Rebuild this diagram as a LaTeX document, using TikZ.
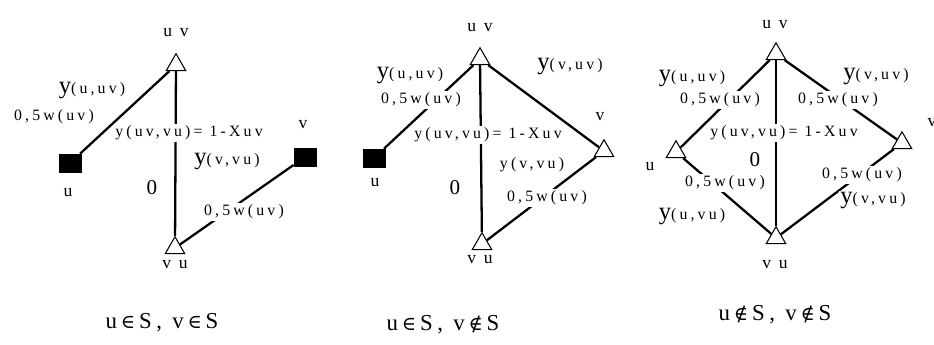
\documentclass[tikz,border=0pt]{standalone}
\usepackage{fontspec}
\setmainfont{Liberation Serif}[LetterSpace=20]
\newfontfamily\symfont{DejaVu Serif}
\usepackage{tikz}
\usetikzlibrary{shapes.geometric}
\newcommand{\bigy}{{\fontsize{14}{14}\selectfont y}}
\newcommand{\halfw}{0,5w(uv)}
\newcommand{\isin}{\,{\symfont\fontsize{11}{12}\selectfont ∈}\,}
\newcommand{\notinS}{\,{\symfont\fontsize{11}{12}\selectfont ∉}\,}

\begin{document}
\begin{tikzpicture}[x=0.02cm, y=-0.02cm,
  tri/.style={draw, fill=white, regular polygon, regular polygon sides=3, minimum size=4.5mm,
              inner sep=0pt, line width=0.6pt},
  sq/.style={draw, fill=black, minimum width=4.4mm, minimum height=3.6mm, inner sep=0pt},
  ln/.style={line width=1.3pt},
  lbl/.style={font=\fontsize{9}{10}\selectfont, inner sep=1pt, fill=white},
  vname/.style={font=\fontsize{10}{11}\selectfont, inner sep=1pt},
  zero/.style={font=\fontsize{12}{13}\selectfont, inner sep=1pt},
  capt/.style={font=\fontsize{13}{14}\selectfont}]
\useasboundingbox (0,0) rectangle (934,345);

% first case
\node[tri] (uvA) at (176,65) {};
\node[tri] (vuA) at (175,248) {};
\node[sq] (uA) at (70,163) {};
\node[sq] (vA) at (305,157) {};
\node[vname] (nuvA) at (176,33) {u v};
\node[vname] (nvuA) at (175,265) {v u};
\node[vname] (nuA) at (68,193) {u};
\node[vname] (nvA) at (303,125) {v};
\draw[ln] (uA) -- (uvA);
\draw[ln] (uvA) -- (vuA);
\draw[ln] (vuA) -- (vA);
\node[lbl] (yuuvA) at (92,91) {\bigy(u,uv)};
\node[lbl] (wuA) at (54,117) {\halfw};
\node[lbl] (ymidA) at (189,133) {y(uv,vu)= 1-Xuv};
\node[lbl] (yvvuA) at (227,162) {\bigy(v,vu)};
\node[zero] (zA) at (152,188) {0};
\node[lbl] (wvA) at (244,212) {\halfw};
\node[capt] (capA) at (162,323) {u\isin S, v\isin S};

% second case
\node[tri] (uvB) at (480,59) {};
\node[tri] (vuB) at (482,244) {};
\node[sq] (uB) at (374,158) {};
\node[tri] (vB) at (604,151) {};
\node[vname] (nuvB) at (480,28) {u v};
\node[vname] (nvuB) at (480,260) {v u};
\node[vname] (nuB) at (375,183) {u};
\node[vname] (nvB) at (600,117) {v};
\draw[ln] (uB) -- (uvB);
\draw[ln] (uvB) -- (vuB);
\draw[ln] (uvB) -- (vB);
\draw[ln] (vB) -- (vuB);
\node[lbl] (yuuvB) at (410,76) {\bigy(u,uv)};
\node[lbl] (wuB) at (421,100) {\halfw};
\node[lbl] (yvuvB) at (570,67) {\bigy(v,uv)};
\node[lbl] (ymidB) at (488,135) {y(uv,vu)= 1-Xuv};
\node[zero] (zB) at (455,188) {0};
\node[lbl] (yvvuB) at (532,165) {y(v,vu)};
\node[lbl] (wvB) at (547,198) {\halfw};
\node[capt] (capB) at (443,325) {u\isin S, v\notinS S};

% third case
\node[tri] (uvC) at (776,54) {};
\node[tri] (vuC) at (776,238) {};
\node[tri] (uC) at (676,152) {};
\node[tri] (vC) at (902,143) {};
\node[vname] (nuvC) at (775,25) {u v};
\node[vname] (nvuC) at (775,265) {v u};
\node[vname] (nuC) at (650,167) {u};
\node[vname] (nvC) at (932,123) {v};
\draw[ln] (uvC) -- (uC);
\draw[ln] (uvC) -- (vC);
\draw[ln] (uC) -- (vuC);
\draw[ln] (vC) -- (vuC);
\draw[ln] (uvC) -- (vuC);
\node[lbl] (yuuvC) at (692,79) {\bigy(u,uv)};
\node[lbl] (wuuvC) at (720,100) {\halfw};
\node[lbl] (yvuvC) at (876,77) {\bigy(v,uv)};
\node[lbl] (wvuvC) at (838,100) {\halfw};
\node[lbl] (ymidC) at (784,133) {y(uv,vu)= 1-Xuv};
\node[zero] (zC) at (755,160) {0};
\node[lbl] (wuvuC) at (725,183) {\halfw};
\node[lbl] (yuvuC) at (692,217) {\bigy(u,vu)};
\node[lbl] (wvvuC) at (862,175) {\halfw};
\node[lbl] (yvvuC) at (873,201) {\bigy(v,vu)};
\node[capt] (capC) at (775,315) {u\notinS S, v\notinS S};
\end{tikzpicture}
\end{document}
